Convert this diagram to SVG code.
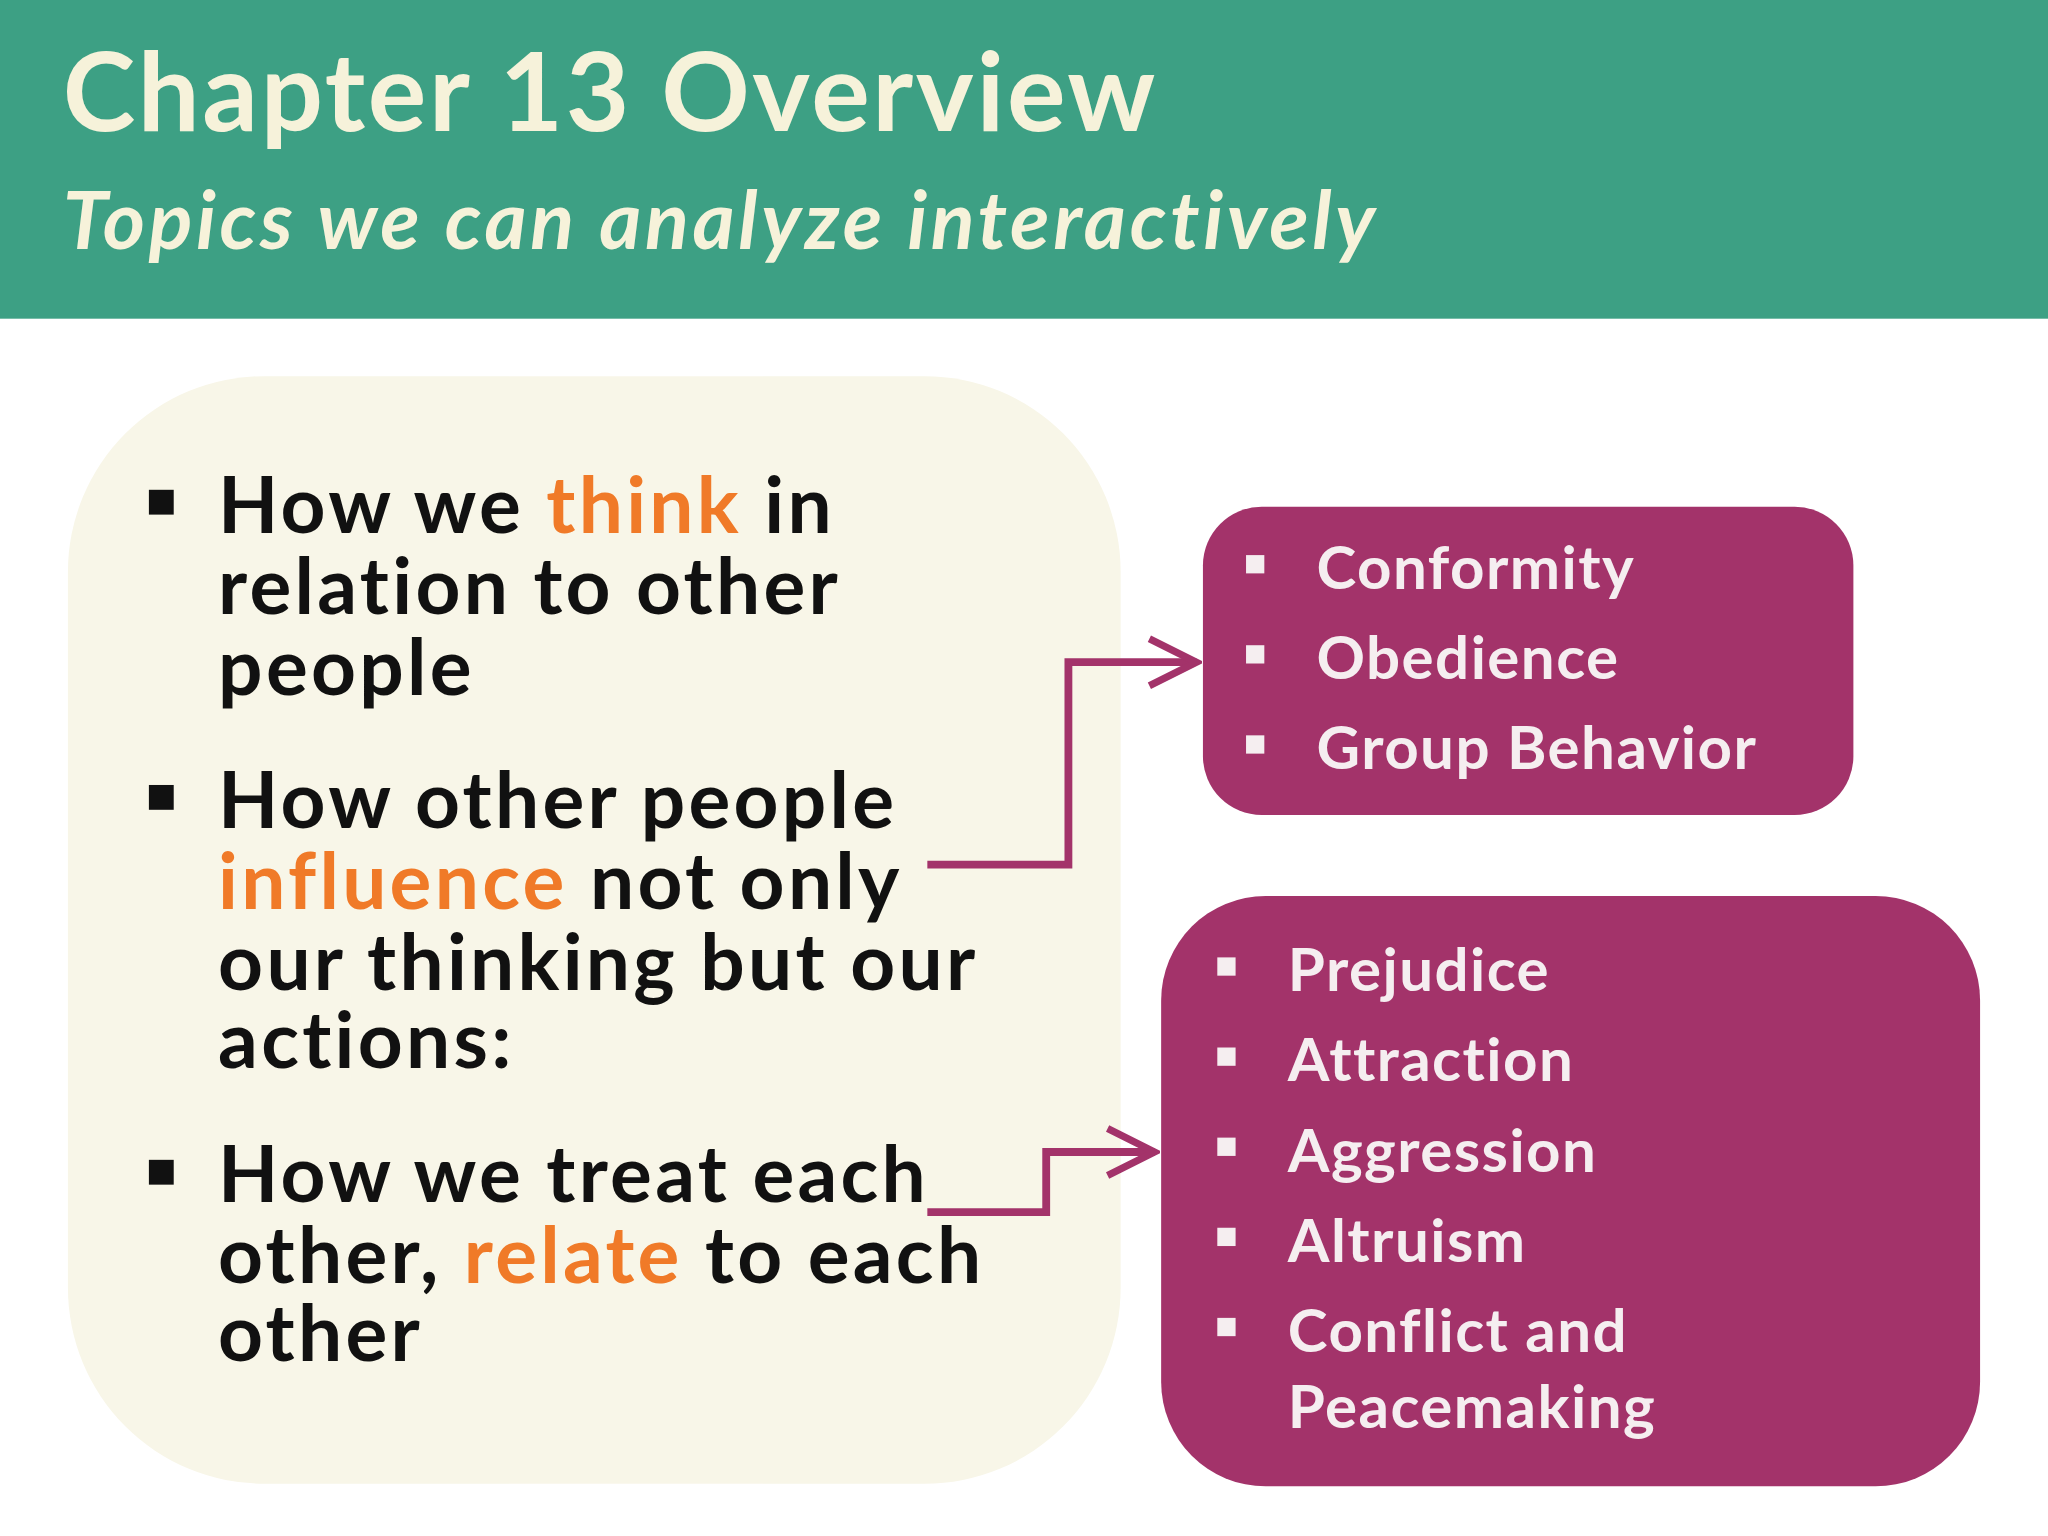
<svg xmlns="http://www.w3.org/2000/svg" width="2048" height="1536" viewBox="0 0 2048 1536">
<style>
.t{font-family:Lato,"Open Sans",sans-serif;font-weight:bold}
.h{fill:#F6F2DA}
.b{font-size:60px;fill:#111;letter-spacing:2.5px}
.o{fill:#F07A28}
.p{font-size:46px;fill:#F5EEF0;letter-spacing:1.1px}
.c{fill:none;stroke:#A3336A;stroke-width:6}
</style>
<defs>
<marker id="m" markerWidth="44" markerHeight="44" refX="40" refY="22" orient="auto" markerUnits="userSpaceOnUse"><path d="M4,4 L40,22 L4,40" fill="none" stroke="#A3336A" stroke-width="5.5"/></marker></defs>
<rect width="2048" height="1536" fill="#fff"/>
<g transform="scale(1.30612)">
<g id="header"><rect width="1568" height="244" fill="#3DA084"/>
<text class="t h" x="48" y="100" font-size="84" letter-spacing="2">Chapter 13 Overview</text>
<text class="t h" x="48" y="191" font-size="62" font-style="italic" letter-spacing="2.8">Topics we can analyze interactively</text></g>
<g id="left"><rect x="52" y="288" width="806" height="848" rx="150" fill="#F8F6E8"/>
<rect x="114" y="375" width="19" height="19" fill="#111"/><rect x="114" y="601" width="19" height="19" fill="#111"/><rect x="114" y="888" width="19" height="19" fill="#111"/>
<text class="t b" x="167" y="408">How we <tspan class="o">think</tspan> in</text>
<text class="t b" x="167" y="470">relation to other</text>
<text class="t b" x="167" y="532">people</text>
<text class="t b" x="167" y="634">How other people</text>
<text class="t b" x="167" y="696"><tspan class="o">influence</tspan> not only</text>
<text class="t b" x="167" y="758">our thinking but our</text>
<text class="t b" x="167" y="818">actions:</text>
<text class="t b" x="167" y="920">How we treat each</text>
<text class="t b" x="167" y="982">other, <tspan class="o">relate</tspan> to each</text>
<text class="t b" x="167" y="1042">other</text></g>
<g id="box1"><rect x="921" y="388" width="498" height="236" rx="45" fill="#A3336A"/>
<g fill="#F5EEF0"><rect x="954" y="425" width="14" height="14"/><rect x="954" y="494" width="14" height="14"/><rect x="954" y="563" width="14" height="14"/></g>
<text class="t p" x="1008" y="451">Conformity</text><text class="t p" x="1008" y="520">Obedience</text><text class="t p" x="1008" y="589">Group Behavior</text></g>
<g id="box2"><rect x="889" y="686" width="627" height="452" rx="80" fill="#A3336A"/>
<g fill="#F5EEF0"><rect x="932" y="733" width="14" height="14"/><rect x="932" y="802" width="14" height="14"/><rect x="932" y="871" width="14" height="14"/><rect x="932" y="940" width="14" height="14"/><rect x="932" y="1009" width="14" height="14"/></g>
<text class="t p" x="986" y="759">Prejudice</text><text class="t p" x="986" y="828">Attraction</text><text class="t p" x="986" y="897">Aggression</text><text class="t p" x="986" y="966">Altruism</text><text class="t p" x="986" y="1035">Conflict and</text><text class="t p" x="986" y="1093">Peacemaking</text></g>
<g id="connectors">
<path class="c" d="M710,662 H818 V507 H916" marker-end="url(#m)"/>
<path class="c" d="M710,928 H801 V882 H884" marker-end="url(#m)"/>
</g>
</g>
</svg>
